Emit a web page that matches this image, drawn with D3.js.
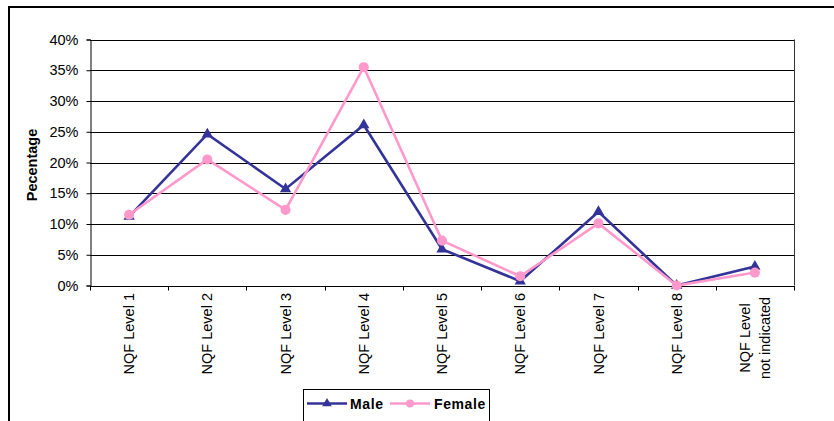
<!DOCTYPE html>
<html>
<head>
<meta charset="utf-8">
<script src="https://cdn.jsdelivr.net/npm/d3@7/dist/d3.min.js"></script>
<style>
    body { margin: 0; background: #fff; }
    svg { display: block; }
    text { font-family: "Liberation Sans", Arial, sans-serif; }
</style>
</head>
<body>
<script>
    var categories = ["NQF Level 1", "NQF Level 2", "NQF Level 3", "NQF Level 4", "NQF Level 5",
                      "NQF Level 6", "NQF Level 7", "NQF Level 8", "NQF Level|not indicated"];
    var male   = [0.112, 0.246, 0.157, 0.261, 0.059, 0.007, 0.120, 0.000, 0.031];
    var female = [0.115, 0.205, 0.123, 0.355, 0.073, 0.015, 0.101, 0.000, 0.021];
    var yTicks = [0, 0.05, 0.10, 0.15, 0.20, 0.25, 0.30, 0.35, 0.40];
    var seriesNames = ["Male", "Female"];
    var colors = ["#333399", "#ff99cc"];

    var W = 834, H = 421;
    var pLeft = 90, pRight = 794, pTop = 39.5, pBottom = 285.5;

    var svg = d3.select("body").append("svg")
        .attr("width", W)
        .attr("height", H);

    // outer chart border (cut off at right/bottom like the reference)
    svg.append("rect")
        .attr("x", 9).attr("y", 7)
        .attr("width", 900).attr("height", 500)
        .attr("fill", "none")
        .attr("stroke", "#000")
        .attr("stroke-width", 2);

    var x = d3.scaleBand().domain(categories).range([pLeft, pRight]).padding(0);
    var y = d3.scaleLinear().domain([0, 0.40]).range([pBottom, pTop]);
    var cx = function(i) { return x(categories[i]) + x.bandwidth() / 2; };

    // gridlines
    svg.append("g")
        .selectAll("line")
        .data(yTicks.slice(1))
        .enter().append("line")
        .attr("x1", pLeft).attr("x2", pRight)
        .attr("y1", function(d) { return Math.round(y(d)) + 0.5; })
        .attr("y2", function(d) { return Math.round(y(d)) + 0.5; })
        .attr("stroke", "#000")
        .attr("stroke-width", 1);

    // right border of plot
    svg.append("line")
        .attr("x1", pRight + 0.5).attr("x2", pRight + 0.5)
        .attr("y1", pTop).attr("y2", pBottom)
        .attr("stroke", "#333");

    // y axis
    var yAxis = svg.append("g")
        .attr("transform", "translate(" + (pLeft + 0.5) + ",0)")
        .call(d3.axisLeft(y).tickValues(yTicks).tickFormat(d3.format(".0%")).tickSize(4).tickPadding(8));
    yAxis.selectAll("path, line").attr("stroke", "#000");
    yAxis.selectAll("text")
        .style("font-size", "14.5px")
        .attr("fill", "#000");

    // x axis
    var xAxis = svg.append("g")
        .attr("transform", "translate(0," + (pBottom + 0.5) + ")")
        .call(d3.axisBottom(x).tickSize(0).tickFormat(""));
    xAxis.select("path").attr("stroke", "#000");
    xAxis.selectAll(".tick").remove();

    svg.append("g")
        .selectAll("line")
        .data(categories.concat(["end"]))
        .enter().append("line")
        .attr("x1", function(d, i) { return Math.round(i < categories.length ? x(d) : pRight) + 0.5; })
        .attr("x2", function(d, i) { return Math.round(i < categories.length ? x(d) : pRight) + 0.5; })
        .attr("y1", pBottom + 0.5)
        .attr("y2", pBottom + 5)
        .attr("stroke", "#000");

    // x labels, rotated
    var labY = 293;
    categories.forEach(function(c, i) {
        var parts = c.split("|");
        if (parts.length == 1) {
            svg.append("text")
                .attr("x", cx(i)).attr("y", labY)
                .attr("dy", "0.35em")
                .attr("text-anchor", "end")
                .attr("transform", "rotate(-90," + cx(i) + "," + labY + ")")
                .style("font-size", "14.5px")
                .text(c);
        } else {
            parts.forEach(function(p, k) {
                var px = cx(i) + (k - (parts.length - 1) / 2) * 20;
                svg.append("text")
                    .attr("x", px).attr("y", 338)
                    .attr("dy", "0.35em")
                    .attr("text-anchor", "middle")
                    .attr("transform", "rotate(-90," + px + ",338)")
                    .style("font-size", "14.5px")
                    .text(p);
            });
        }
    });

    // y axis title
    svg.append("text")
        .attr("transform", "translate(36.5,165) rotate(-90)")
        .attr("text-anchor", "middle")
        .style("font-size", "14.5px")
        .style("font-weight", "bold")
        .text("Pecentage");

    // series
    var line = d3.line()
        .x(function(d, i) { return cx(i); })
        .y(function(d) { return y(d); });

    var tri = d3.symbol(d3.symbolTriangle, 55);
    var dot = d3.symbol(d3.symbolCircle, 80);

    [male, female].forEach(function(vals, s) {
        var g = svg.append("g");
        g.append("path")
            .datum(vals)
            .attr("fill", "none")
            .attr("stroke", colors[s])
            .attr("stroke-width", 2.6)
            .attr("stroke-linejoin", "miter")
            .attr("d", line);
        g.selectAll(".pt")
            .data(vals)
            .enter().append("path")
            .attr("class", "pt")
            .attr("transform", function(d, i) { return "translate(" + cx(i) + "," + y(d) + ")"; })
            .attr("d", s == 0 ? tri : dot)
            .attr("fill", colors[s]);
    });

    // legend
    var leg = svg.append("g");
    leg.append("rect")
        .attr("x", 303.5).attr("y", 389.5)
        .attr("width", 186).attr("height", 60)
        .attr("fill", "#fff")
        .attr("stroke", "#000");

    var legItems = [
        { x1: 307, x2: 347, tx: 350 },
        { x1: 390, x2: 430, tx: 434 }
    ];
    legItems.forEach(function(it, s) {
        var ly = 403.5;
        leg.append("line")
            .attr("x1", it.x1).attr("x2", it.x2)
            .attr("y1", ly).attr("y2", ly)
            .attr("stroke", colors[s])
            .attr("stroke-width", 2.6);
        leg.append("path")
            .attr("transform", "translate(" + ((it.x1 + it.x2) / 2) + "," + ly + ")")
            .attr("d", s == 0 ? d3.symbol(d3.symbolTriangle, 40) : d3.symbol(d3.symbolCircle, 50))
            .attr("fill", colors[s]);
        leg.append("text")
            .attr("x", it.tx).attr("y", ly + 5)
            .style("font-size", "14px")
            .style("font-weight", "bold")
            .style("letter-spacing", "0.6px")
            .text(seriesNames[s]);
    });
</script>
</body>
</html>
